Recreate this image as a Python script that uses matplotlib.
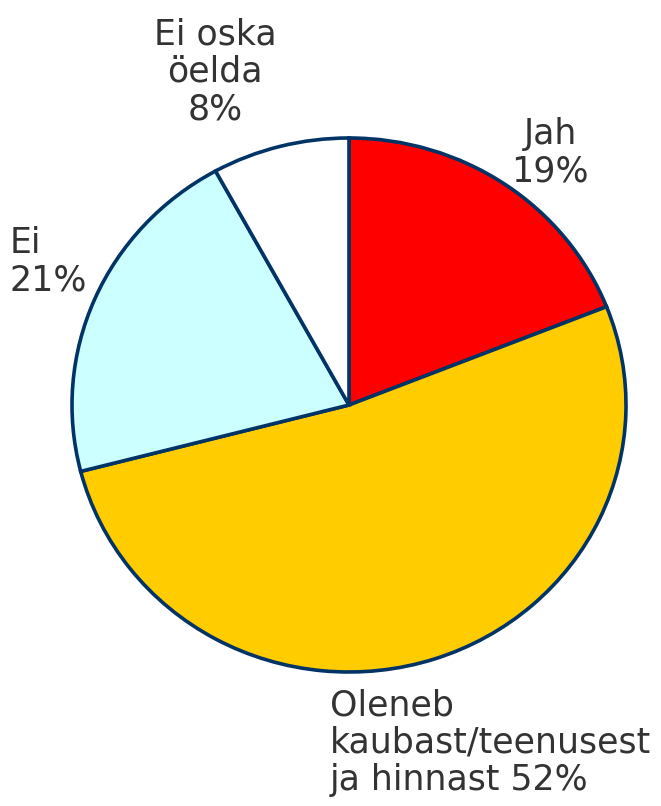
import matplotlib
matplotlib.use("Agg")
from matplotlib import pyplot as plt

labels = ["Jah\n19%", "Oleneb\nkaubast/teenusest\nja hinnast 52%", "Ei\n21%", "Ei oska\nöelda\n8%"]
values = [19, 52, 21, 8]
colors = ["#FF0000", "#FFCC00", "#CCFFFF", "#FFFFFF"]

W, H = 661, 806
fig = plt.figure(figsize=(W / 100, H / 100), dpi=100)
ax = fig.add_axes([0, 0, 1, 1])

# pie slightly wider than tall in the reference
sy = 277 / 267
ax.pie(values, colors=colors, startangle=90, counterclock=False,
       center=(349, (H - 405) * sy), radius=277,
       wedgeprops=dict(edgecolor="#003366", linewidth=2.6))
ax.set_xlim(0, W)
ax.set_ylim(0, H * sy)
ax.set_aspect("auto")
ax.axis("off")

fs = 25
col = "#333333"
ls = 1.12
fig.text(550 / W, 1 - 153 / H, labels[0], ha="center", va="center", fontsize=fs, color=col, linespacing=ls)
fig.text(330 / W, 1 - 743 / H, labels[1], ha="left", va="center", fontsize=fs, color=col, linespacing=ls)
fig.text(10 / W, 1 - 262 / H, labels[2], ha="left", va="center", fontsize=fs, color=col, linespacing=ls)
fig.text(215 / W, 1 - 72 / H, labels[3], ha="center", va="center", fontsize=fs, color=col, linespacing=ls)

fig.savefig("out.png", dpi=100)
